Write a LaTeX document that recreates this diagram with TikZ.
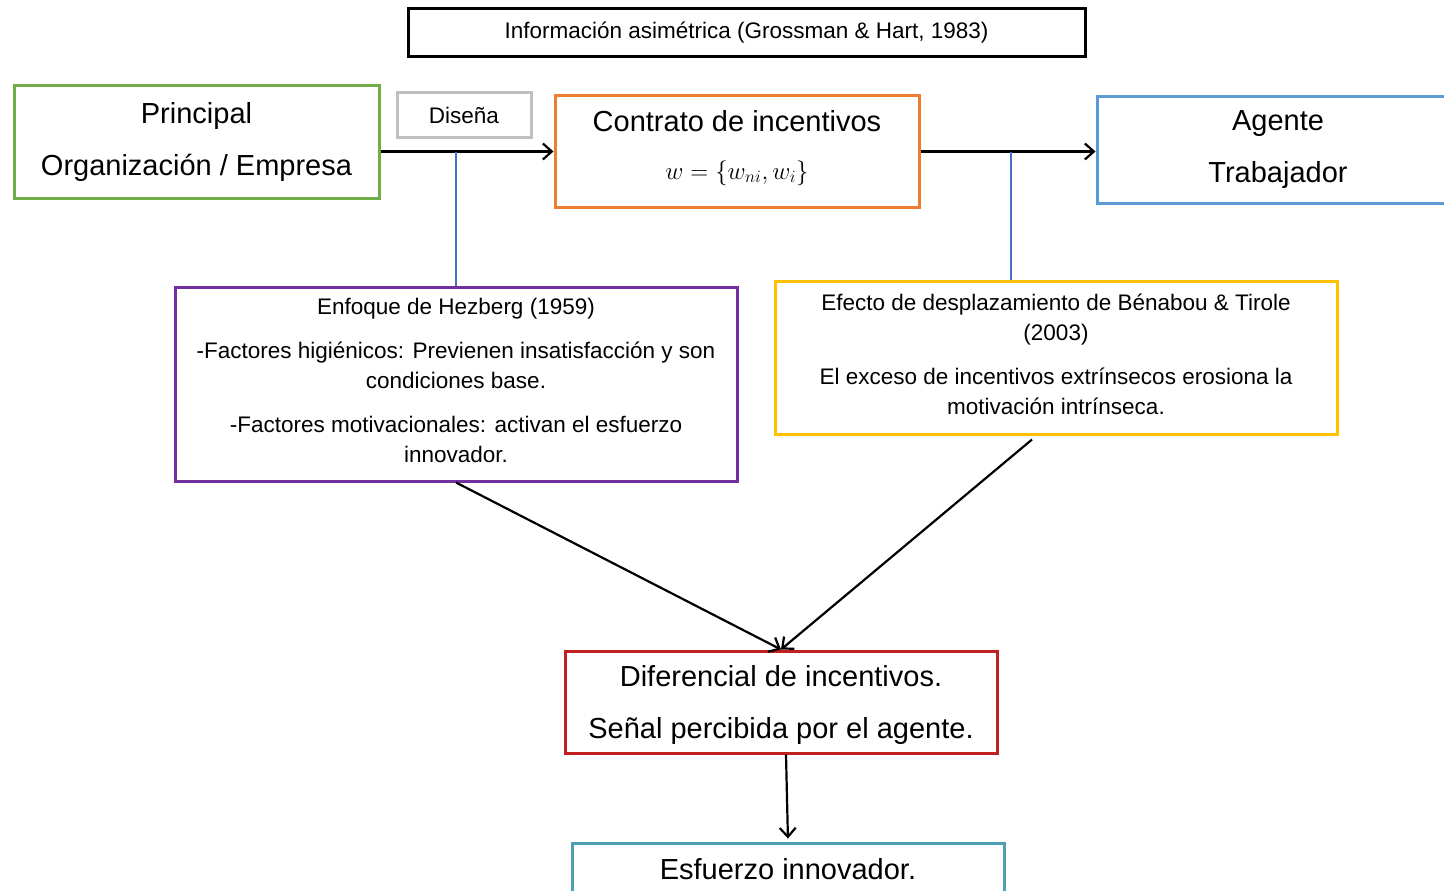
\documentclass[tikz,border=0pt]{standalone}
\usepackage{fontspec}
\setmainfont{Liberation Sans}
\usetikzlibrary{arrows.meta}
\definecolor{cgreen}{RGB}{112,173,71}
\definecolor{corange}{RGB}{237,125,49}
\definecolor{cblue}{RGB}{91,155,213}
\definecolor{cpurple}{RGB}{112,48,160}
\definecolor{cyellow}{RGB}{255,192,0}
\definecolor{cred}{RGB}{192,32,32}
\definecolor{cteal}{RGB}{75,160,180}
\definecolor{cgray}{RGB}{191,191,191}
\definecolor{clink}{RGB}{68,114,196}
\newcommand{\bigfs}{\fontsize{29}{52}\selectfont}
\newcommand{\smallfs}{\fontsize{22.5}{30}\selectfont}

\begin{document}
\begin{tikzpicture}[x=1pt,y=-1pt,
    box/.style={draw,line width=3pt,align=center,inner sep=0pt},
    arr/.style={-{Straight Barb[length=9pt,width=16pt]},line width=2.2pt},
    vline/.style={draw=clink,line width=1.8pt}]
     \useasboundingbox (0,0) rectangle (1444,891);
     \node[box,draw=black,minimum width=677,minimum height=48,font=\smallfs]
        (info) at (746.5,33) {Información asimétrica (Grossman \& Hart, 1983)};
     \node[box,draw=cgreen,minimum width=365,minimum height=112,font=\bigfs]
        (principal) at (196.5,142) {Principal\\Organización / Empresa};
     \node[box,draw=cgray,minimum width=134,minimum height=44,font=\smallfs]
        (disena) at (464,115) {Diseña};
     \node[box,draw=corange,minimum width=364,minimum height=111,font=\bigfs]
        (contrato) at (737,151.5)
        {Contrato de incentivos\\[-4pt]{\fontsize{26}{30}\selectfont
         $w=\{w_{ni},w_i\}$\rule[-14pt]{0pt}{1pt}}};
     \node[box,draw=cblue,minimum width=362,minimum height=106,font=\bigfs]
        (agente) at (1278,150) {Agente\\Trabajador};
     \node[box,draw=cpurple,minimum width=562,minimum height=194,font=\smallfs]
        (enfoque) at (456,384)
        {Enfoque de Hezberg (1959)\\[14pt]
         -Factores higiénicos: Previenen insatisfacción y son\\
         condiciones base.\\[14pt]
         -Factores motivacionales: activan el esfuerzo\\
         innovador.\rule[-7pt]{0pt}{1pt}};
     \node[box,draw=cyellow,minimum width=562,minimum height=153,font=\smallfs]
        (efecto) at (1056,357.5)
        {Efecto de desplazamiento de Bénabou \& Tirole\\
         (2003)\\[14pt]
         El exceso de incentivos extrínsecos erosiona la\\
         motivación intrínseca.\rule[-7pt]{0pt}{1pt}};
     \node[box,draw=cred,minimum width=432,minimum height=102,font=\bigfs]
        (diferencial) at (781,702)
        {\rule{0pt}{28pt}Diferencial de incentivos.\\Señal percibida por el agente.};
     \node[box,draw=cteal,minimum width=432,minimum height=52,font=\bigfs]
        (esfuerzo) at (788,869) {Esfuerzo innovador.};
     \coordinate (d1) at (enfoque.north |- contrato.west);
     \coordinate (d2) at (1011,151.5);
     \draw[arr] (principal.east |- contrato.west) -- (contrato.west);
     \draw[arr] (contrato.east) -- (contrato.east -| agente.west);
     \draw[vline] (d1) -- (enfoque.north);
     \draw[vline] (d2) -- (d2 |- efecto.north);
     \draw[arr] (enfoque.south) -- (diferencial.north);
     \draw[arr] ([shift={(-24,4)}]efecto.south) -- (diferencial.north);
     \draw[arr,shorten >=3pt] ([xshift=5pt]diferencial.south) -- (esfuerzo.north);
    \end{tikzpicture}
\end{document}
